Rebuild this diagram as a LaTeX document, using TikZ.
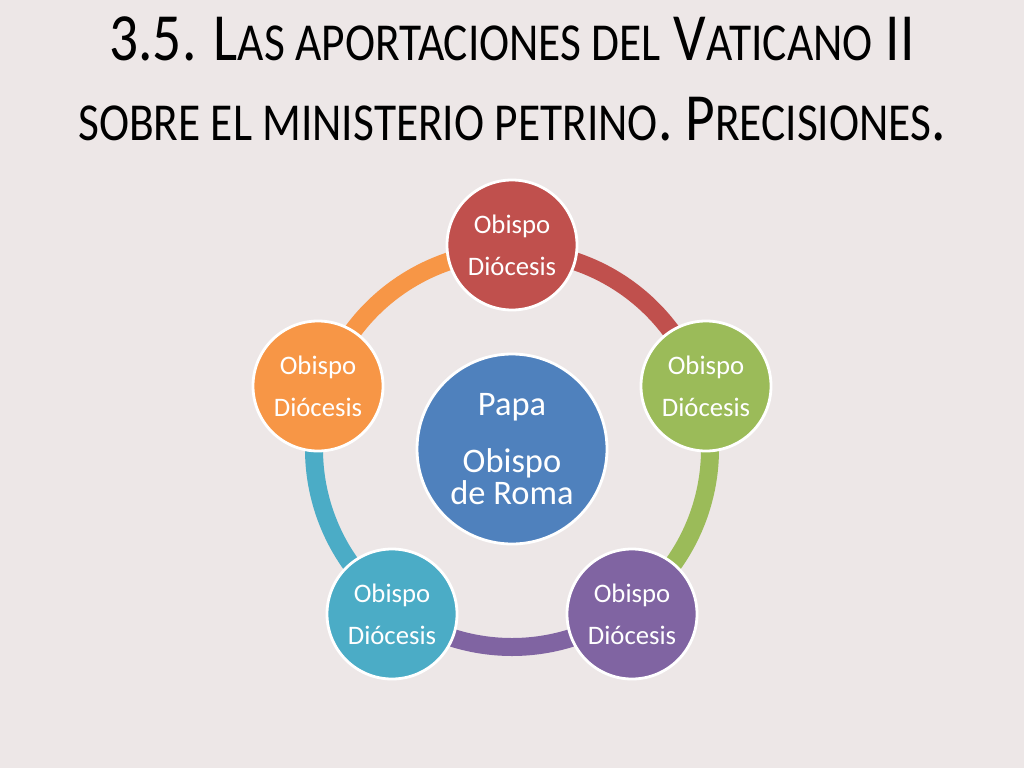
\documentclass[tikz,border=0pt]{standalone}
\usepackage{fontspec}
\setmainfont{Carlito}
\usepackage{xcolor}
\definecolor{bgpaper}{HTML}{EDE7E7}
\definecolor{bishopred}{HTML}{C0504D}
\definecolor{bishopgreen}{HTML}{9BBB59}
\definecolor{bishoppurple}{HTML}{8064A2}
\definecolor{bishopteal}{HTML}{4BACC6}
\definecolor{bishoporange}{HTML}{F79646}
\definecolor{popeblue}{HTML}{4F81BD}
\newcommand\lowcaps[1]{{\fontsize{38}{38}\selectfont #1}}

\tikzset{
  bishop/.style={circle,draw=white,line width=2pt,minimum size=32.5mm,inner sep=0pt,
    text=white,align=center,font=\fontsize{19}{30}\selectfont},
  pope/.style={circle,draw=white,line width=2pt,minimum size=47.5mm,inner sep=0pt,
    fill=popeblue,text=white,align=center,font=\fontsize{24.5}{22.7}\selectfont},
  ring/.style={line width=12.8pt},
  heading/.style={anchor=base,xscale=0.85,font=\fontsize{48}{48}\selectfont}
}

\begin{document}
\begin{tikzpicture}[x=0.25mm,y=-0.25mm]
  % Background
  \fill[bgpaper] (0,0) rectangle (1024,768);
  \useasboundingbox (0,0) rectangle (1024,768);

  % Title
  \node[heading] (title1) at (512,60) {3.5. L\lowcaps{AS APORTACIONES DEL} V\lowcaps{ATICANO} II};
  \node[heading] (title2) at (512,140) {\lowcaps{SOBRE EL MINISTERIO PETRINO}. P\lowcaps{RECISIONES}.};

  % Ring positions
  \coordinate (O) at (512,449);
  \coordinate (top) at (512,245);
  \coordinate (right) at (706,386);
  \coordinate (lowright) at (632,614);
  \coordinate (lowleft) at (392,614);
  \coordinate (left) at (318,386);

  % Ring arcs
  \draw[ring,bishopred] (O) ++(-90:198) arc[start angle=-90,end angle=-18,radius=198];
  \draw[ring,bishopgreen] (O) ++(-18:198) arc[start angle=-18,end angle=54,radius=198];
  \draw[ring,bishoppurple] (O) ++(54:198) arc[start angle=54,end angle=126,radius=198];
  \draw[ring,bishopteal] (O) ++(126:198) arc[start angle=126,end angle=198,radius=198];
  \draw[ring,bishoporange] (O) ++(198:198) arc[start angle=198,end angle=270,radius=198];

  % Circles
  \node[pope] (papa) at (O) {Papa\\[18pt]Obispo\\de Roma};
  \node[bishop,fill=bishopred] (b1) at (top) {Obispo\\Diócesis};
  \node[bishop,fill=bishopgreen] (b2) at (right) {Obispo\\Diócesis};
  \node[bishop,fill=bishoppurple] (b3) at (lowright) {Obispo\\Diócesis};
  \node[bishop,fill=bishopteal] (b4) at (lowleft) {Obispo\\Diócesis};
  \node[bishop,fill=bishoporange] (b5) at (left) {Obispo\\Diócesis};
\end{tikzpicture}
\end{document}
